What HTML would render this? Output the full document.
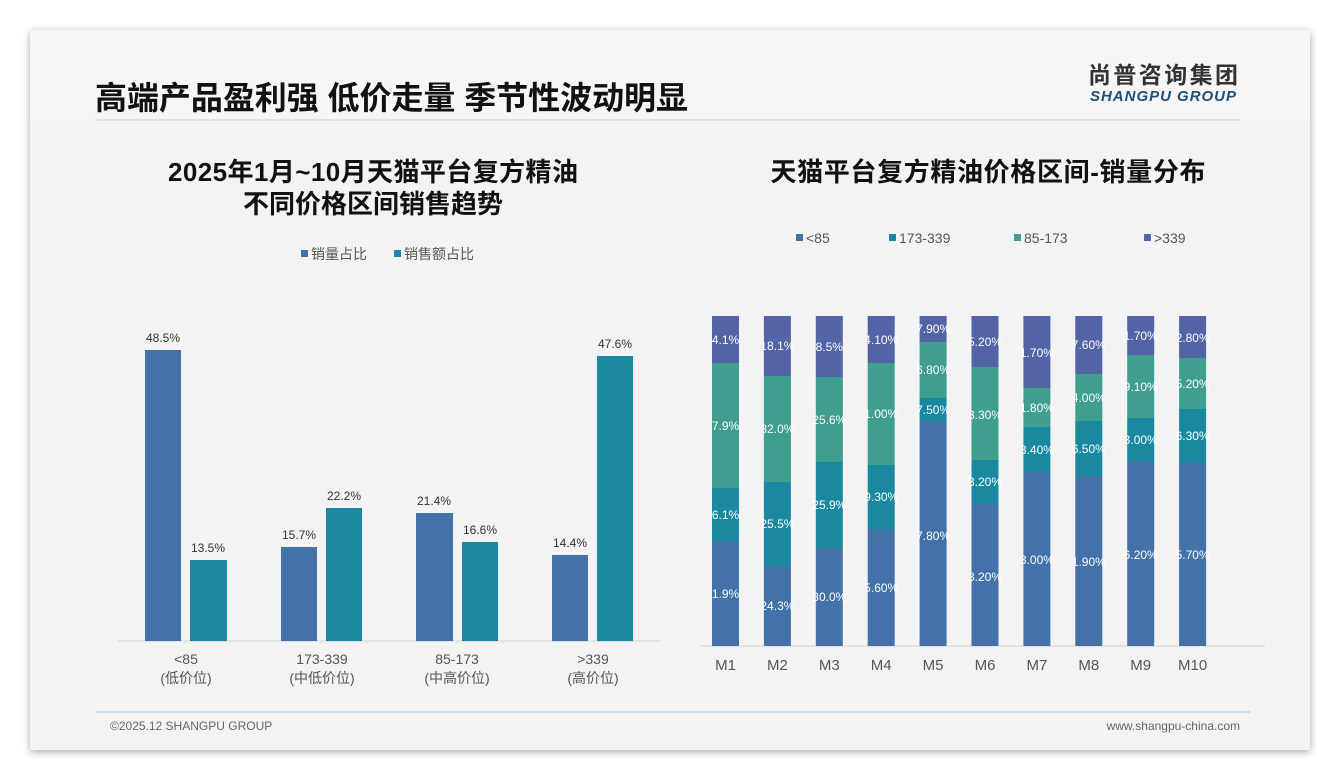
<!DOCTYPE html>
<html><head><meta charset="utf-8"><style>
body{margin:0;width:1340px;height:780px;background:#fff;overflow:hidden}
svg{display:block}
text{font-family:"Liberation Sans","Noto Sans CJK SC",sans-serif}
.w{font-size:12px;fill:#fff;text-anchor:middle}
.m{font-size:15px;fill:#555;text-anchor:middle}
.a{fill:#5264a5}.b{fill:#3f9e8e}.c{fill:#1a89a0}.d{fill:#4372a8}
</style></head><body>
<svg width="1340" height="780" xmlns="http://www.w3.org/2000/svg">
<defs><filter id="sh" x="-5%" y="-5%" width="110%" height="110%"><feDropShadow dx="0" dy="2" stdDeviation="4" flood-color="#000" flood-opacity="0.35"/></filter></defs>
<rect x="30" y="30" width="1280" height="720" fill="#f3f3f3" filter="url(#sh)"/>
<rect x="30" y="30" width="1280" height="90" fill="#f6f6f6"/>
<text x="95" y="109" font-size="32" font-weight="bold" fill="#111" textLength="593">高端产品盈利强 低价走量 季节性波动明显</text>
<line x1="95" y1="120" x2="1240" y2="120" stroke="#dcdcdc" stroke-width="1.5"/>
<text x="1163" y="83" font-size="23" font-weight="bold" fill="#333" text-anchor="middle" textLength="150">尚普咨询集团</text>
<text x="1163" y="101" font-size="15" font-weight="bold" font-style="italic" fill="#1f4e79" text-anchor="middle" textLength="146">SHANGPU GROUP</text>

<text x="373" y="181" font-size="26" font-weight="bold" fill="#111" text-anchor="middle" textLength="410">2025年1月~10月天猫平台复方精油</text>
<text x="373" y="213" font-size="26" font-weight="bold" fill="#111" text-anchor="middle">不同价格区间销售趋势</text>
<rect x="301" y="250" width="7" height="7" fill="#4372a8"/><text x="311" y="259" font-size="14" fill="#555">销量占比</text>
<rect x="394" y="250" width="7" height="7" fill="#1a89a0"/><text x="404" y="259" font-size="14" fill="#555">销售额占比</text>
<line x1="118" y1="641" x2="660" y2="641" stroke="#d0d0d0"/>
<g font-size="12" fill="#333" text-anchor="middle">
<rect x="145" y="350" width="36" height="291" fill="#4372a8"/><text x="163" y="342">48.5%</text>
<rect x="190" y="560" width="37" height="81" fill="#1a89a0"/><text x="208" y="552">13.5%</text>
<rect x="281" y="547" width="36" height="94" fill="#4372a8"/><text x="299" y="539">15.7%</text>
<rect x="326" y="508" width="36" height="133" fill="#1a89a0"/><text x="344" y="500">22.2%</text>
<rect x="416" y="513" width="37" height="128" fill="#4372a8"/><text x="434" y="505">21.4%</text>
<rect x="462" y="542" width="36" height="99" fill="#1a89a0"/><text x="480" y="534">16.6%</text>
<rect x="552" y="555" width="36" height="86" fill="#4372a8"/><text x="570" y="547">14.4%</text>
<rect x="597" y="356" width="36" height="285" fill="#1a89a0"/><text x="615" y="348">47.6%</text>
</g>
<g font-size="14" fill="#555" text-anchor="middle">
<text x="186" y="664">&lt;85</text><text x="186" y="683">(低价位)</text>
<text x="322" y="664">173-339</text><text x="322" y="683">(中低价位)</text>
<text x="457" y="664">85-173</text><text x="457" y="683">(中高价位)</text>
<text x="593" y="664">&gt;339</text><text x="593" y="683">(高价位)</text>
</g>

<text x="988" y="181" font-size="26" font-weight="bold" fill="#111" text-anchor="middle" textLength="435">天猫平台复方精油价格区间-销量分布</text>
<g font-size="14" fill="#555">
<rect x="796" y="234" width="7" height="7" fill="#4372a8"/><text x="806" y="243">&lt;85</text>
<rect x="889" y="234" width="7" height="7" fill="#1a89a0"/><text x="899" y="243">173-339</text>
<rect x="1014" y="234" width="7" height="7" fill="#3f9e8e"/><text x="1024" y="243">85-173</text>
<rect x="1144" y="234" width="7" height="7" fill="#5264a5"/><text x="1154" y="243">&gt;339</text>
</g>
<line x1="700" y1="646" x2="1265" y2="646" stroke="#d0d0d0"/>

<g transform="translate(712,0)">
<rect class="a" y="316" width="27" height="47"/><rect class="b" y="363" width="27" height="125"/><rect class="c" y="488" width="27" height="53"/><rect class="d" y="541" width="27" height="105"/>
<text class="w" x="13.5" y="344">4.1%</text><text class="w" x="13.5" y="430">7.9%</text><text class="w" x="13.5" y="519">6.1%</text><text class="w" x="13.5" y="598">1.9%</text><text class="m" x="13.5" y="670">M1</text></g>
<g transform="translate(763.9,0)">
<rect class="a" y="316" width="27" height="60"/><rect class="b" y="376" width="27" height="106"/><rect class="c" y="482" width="27" height="84"/><rect class="d" y="566" width="27" height="80"/>
<text class="w" x="13.5" y="350">18.1%</text><text class="w" x="13.5" y="433">32.0%</text><text class="w" x="13.5" y="528">25.5%</text><text class="w" x="13.5" y="610">24.3%</text><text class="m" x="13.5" y="670">M2</text></g>
<g transform="translate(815.8,0)">
<rect class="a" y="316" width="27" height="61"/><rect class="b" y="377" width="27" height="85"/><rect class="c" y="462" width="27" height="86"/><rect class="d" y="548" width="27" height="98"/>
<text class="w" x="13.5" y="351">8.5%</text><text class="w" x="13.5" y="424">25.6%</text><text class="w" x="13.5" y="509">25.9%</text><text class="w" x="13.5" y="601">30.0%</text><text class="m" x="13.5" y="670">M3</text></g>
<g transform="translate(867.7,0)">
<rect class="a" y="316" width="27" height="47"/><rect class="b" y="363" width="27" height="102"/><rect class="c" y="465" width="27" height="64"/><rect class="d" y="529" width="27" height="117"/>
<text class="w" x="13.5" y="344">4.10%</text><text class="w" x="13.5" y="418">1.00%</text><text class="w" x="13.5" y="501">9.30%</text><text class="w" x="13.5" y="592">5.60%</text><text class="m" x="13.5" y="670">M4</text></g>
<g transform="translate(919.6,0)">
<rect class="a" y="316" width="27" height="26"/><rect class="b" y="342" width="27" height="56"/><rect class="c" y="398" width="27" height="23"/><rect class="d" y="421" width="27" height="225"/>
<text class="w" x="13.5" y="333">7.90%</text><text class="w" x="13.5" y="374">6.80%</text><text class="w" x="13.5" y="414">7.50%</text><text class="w" x="13.5" y="540">7.80%</text><text class="m" x="13.5" y="670">M5</text></g>
<g transform="translate(971.5,0)">
<rect class="a" y="316" width="27" height="51"/><rect class="b" y="367" width="27" height="93"/><rect class="c" y="460" width="27" height="44"/><rect class="d" y="504" width="27" height="142"/>
<text class="w" x="13.5" y="346">5.20%</text><text class="w" x="13.5" y="419">8.30%</text><text class="w" x="13.5" y="486">3.20%</text><text class="w" x="13.5" y="581">3.20%</text><text class="m" x="13.5" y="670">M6</text></g>
<g transform="translate(1023.4,0)">
<rect class="a" y="316" width="27" height="72"/><rect class="b" y="388" width="27" height="39"/><rect class="c" y="427" width="27" height="45"/><rect class="d" y="472" width="27" height="174"/>
<text class="w" x="13.5" y="357">1.70%</text><text class="w" x="13.5" y="412">1.80%</text><text class="w" x="13.5" y="454">3.40%</text><text class="w" x="13.5" y="564">3.00%</text><text class="m" x="13.5" y="670">M7</text></g>
<g transform="translate(1075.3,0)">
<rect class="a" y="316" width="27" height="58"/><rect class="b" y="374" width="27" height="47"/><rect class="c" y="421" width="27" height="55"/><rect class="d" y="476" width="27" height="170"/>
<text class="w" x="13.5" y="349">7.60%</text><text class="w" x="13.5" y="402">4.00%</text><text class="w" x="13.5" y="453">6.50%</text><text class="w" x="13.5" y="566">1.90%</text><text class="m" x="13.5" y="670">M8</text></g>
<g transform="translate(1127.2,0)">
<rect class="a" y="316" width="27" height="39"/><rect class="b" y="355" width="27" height="63"/><rect class="c" y="418" width="27" height="43"/><rect class="d" y="461" width="27" height="185"/>
<text class="w" x="13.5" y="340">1.70%</text><text class="w" x="13.5" y="391">9.10%</text><text class="w" x="13.5" y="444">3.00%</text><text class="w" x="13.5" y="559">6.20%</text><text class="m" x="13.5" y="670">M9</text></g>
<g transform="translate(1179.1,0)">
<rect class="a" y="316" width="27" height="42"/><rect class="b" y="358" width="27" height="51"/><rect class="c" y="409" width="27" height="53"/><rect class="d" y="462" width="27" height="184"/>
<text class="w" x="13.5" y="342">2.80%</text><text class="w" x="13.5" y="388">5.20%</text><text class="w" x="13.5" y="440">6.30%</text><text class="w" x="13.5" y="559">5.70%</text><text class="m" x="13.5" y="670">M10</text></g>

<text x="110" y="730" font-size="12" fill="#666">©2025.12 SHANGPU GROUP</text>
<text x="1240" y="730" font-size="12" fill="#666" text-anchor="end">www.shangpu-china.com</text>
<line x1="95" y1="712" x2="1250" y2="712" stroke="#a9c4dc" stroke-width="1"/>
</svg>
</body></html>
